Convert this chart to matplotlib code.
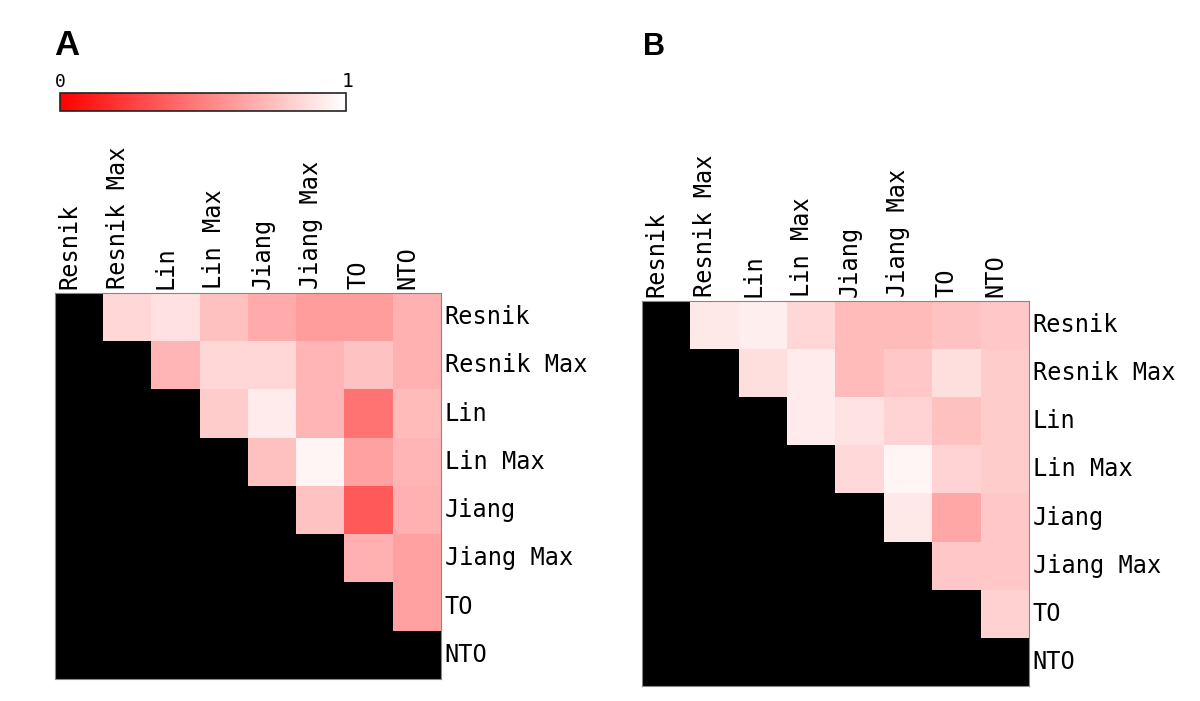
import numpy as np
import matplotlib
matplotlib.use("Agg")
import matplotlib.pyplot as plt
from matplotlib.colors import LinearSegmentedColormap, Normalize
from matplotlib.cm import ScalarMappable

# ---------------------------------------------------------------------
# Data: pairwise correlation between similarity measures (upper triangle)
# ---------------------------------------------------------------------
methods = ["Resnik", "Resnik Max", "Lin", "Lin Max",
           "Jiang", "Jiang Max", "TO", "NTO"]

# row i holds values for columns i+1 .. 7
upper_a = [
    [0.84, 0.88, 0.75, 0.67, 0.61, 0.61, 0.69],
    [0.71, 0.84, 0.84, 0.71, 0.76, 0.69],
    [0.80, 0.92, 0.71, 0.45, 0.73],
    [0.75, 0.96, 0.63, 0.71],
    [0.76, 0.35, 0.69],
    [0.69, 0.63],
    [0.63],
]

upper_b = [
    [0.91, 0.93, 0.84, 0.73, 0.73, 0.76, 0.78],
    [0.87, 0.92, 0.73, 0.78, 0.87, 0.80],
    [0.92, 0.89, 0.83, 0.75, 0.80],
    [0.85, 0.96, 0.83, 0.80],
    [0.91, 0.65, 0.78],
    [0.78, 0.78],
    [0.82],
]

panel_labels = ["A", "B"]

# ---------------------------------------------------------------------
# Helpers
# ---------------------------------------------------------------------
cmap = LinearSegmentedColormap.from_list("redwhite", ["#ff0000", "#ffffff"])
cmap.set_bad("black")
mono = "DejaVu Sans Mono"
label_size = 17


def to_matrix(upper):
    n = len(methods)
    m = np.full((n, n), np.nan)
    for i, row in enumerate(upper):
        for k, v in enumerate(row):
            m[i, i + 1 + k] = v
    return np.ma.masked_invalid(m)


def draw_panel(ax, upper):
    n = len(methods)
    ax.imshow(to_matrix(upper), cmap=cmap, vmin=0, vmax=1,
              interpolation="nearest", aspect="auto")
    ax.set_xlim(-0.5, n - 0.5)
    ax.set_ylim(n - 0.5, -0.5)
    ax.set_xticks([])
    ax.set_yticks([])
    for s in ax.spines.values():
        s.set_color("#888888")
        s.set_linewidth(0.8)
    for i, name in enumerate(methods):
        ax.text(i - 0.2, -0.58, name, rotation=90, ha="center", va="bottom",
                family=mono, fontsize=label_size)
        ax.text(n - 0.42, i, name, ha="left", va="center",
                family=mono, fontsize=label_size)


# ---------------------------------------------------------------------
# Figure
# ---------------------------------------------------------------------
W, H = 1200, 701
fig = plt.figure(figsize=(W / 100, H / 100), dpi=100)


def px_axes(left, top, right, bottom):
    return fig.add_axes([left / W, 1 - bottom / H,
                         (right - left) / W, (bottom - top) / H])


ax_a = px_axes(55, 293, 441, 679)
ax_b = px_axes(642, 301, 1029, 686)
draw_panel(ax_a, upper_a)
draw_panel(ax_b, upper_b)

fig.text(54 / W, 1 - 55 / H, panel_labels[0], fontsize=25,
         fontweight="bold", family="Liberation Sans", va="baseline")
fig.text(643 / W, 1 - 55 / H, panel_labels[1], fontsize=22,
         fontweight="bold", family="Liberation Sans", va="baseline")

# colour bar
cax = px_axes(60, 93, 346, 111)
cb = fig.colorbar(ScalarMappable(norm=Normalize(0, 1), cmap=cmap),
                  cax=cax, orientation="horizontal")
cb.set_ticks([])
cb.outline.set_linewidth(1.2)
cb.outline.set_edgecolor("#222222")
fig.text(60 / W, 1 - 91 / H, "0", ha="center", va="bottom",
         family=mono, fontsize=13)
fig.text(347 / W, 1 - 91 / H, "1", ha="center", va="bottom",
         family=mono, fontsize=14)

fig.savefig("out.png", dpi=100, facecolor="white")
